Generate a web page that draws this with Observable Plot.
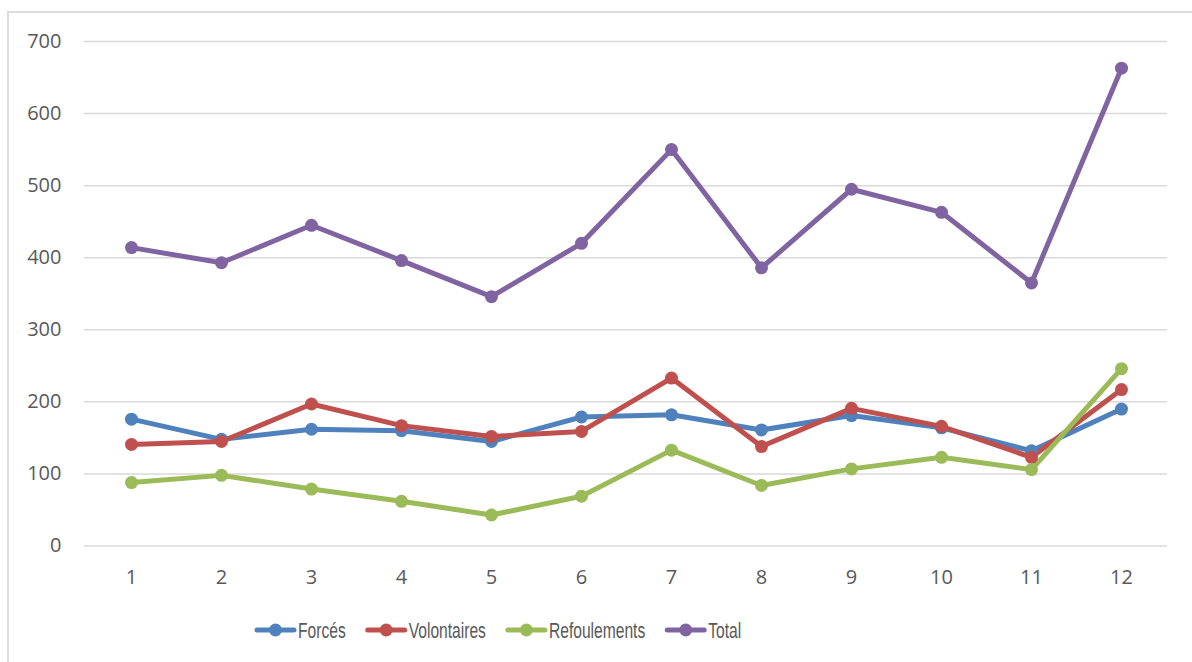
<!DOCTYPE html>
<html>
<head>
<meta charset="utf-8">
<script src="https://cdn.jsdelivr.net/npm/d3@7"></script>
<script src="https://cdn.jsdelivr.net/npm/@observablehq/plot@0.6"></script>
<style>
  html, body { margin: 0; padding: 0; background: #fff; width: 1192px; height: 662px; overflow: hidden; }
  #wrap { position: relative; width: 1192px; height: 662px; }
  #border { position: absolute; left: 7px; top: 11px; width: 1200px; height: 700px;
            border-left: 2px solid #dcdcdc; border-top: 2px solid #dcdcdc; }
  #chart { position: absolute; left: 0; top: 0; }
  #legend { position: absolute; left: 0; top: 608px; }
</style>
</head>
<body>
<div id="wrap">
  <div id="border"></div>
  <div id="chart"></div>
  <svg id="legend" width="1192" height="44"></svg>
</div>
<script>
const months = [1, 2, 3, 4, 5, 6, 7, 8, 9, 10, 11, 12];
const seriesNames = ["Forcés", "Volontaires", "Refoulements", "Total"];
const seriesColors = ["#4F81BD", "#C0504D", "#9BBB59", "#8064A2"];
const forces = [176, 148, 162, 160, 145, 179, 182, 161, 181, 164, 132, 190];
const volontaires = [141, 145, 197, 167, 152, 159, 233, 138, 191, 166, 123, 217];
const refoulements = [88, 98, 79, 62, 43, 69, 133, 84, 107, 123, 106, 246];
const total = [414, 393, 445, 396, 346, 420, 550, 386, 495, 463, 365, 663];
const yTicks = [0, 100, 200, 300, 400, 500, 600, 700];

const seriesValues = [forces, volontaires, refoulements, total];
const data = [];
seriesNames.forEach((name, i) => {
  months.forEach((m, j) => data.push({ serie: name, mois: m, valeur: seriesValues[i][j] }));
});

const chart = Plot.plot({
  width: 1192,
  height: 600,
  marginLeft: 84,
  marginRight: 25,
  marginTop: 41,
  marginBottom: 54.5,
  style: { fontFamily: "'Open Sans', sans-serif", fontSize: "20px", color: "#595959", background: "transparent" },
  x: { type: "point", domain: months, padding: 0.5, label: null },
  y: { domain: [0, 700], label: null },
  color: { domain: seriesNames, range: seriesColors },
  marks: [
    Plot.gridY(yTicks, { stroke: "#d9d9d9", strokeOpacity: 1, strokeWidth: 1.5 }),
    Plot.axisY(yTicks, { tickSize: 0, tickPadding: 23, label: null, fill: "#595959" }),
    Plot.axisX(months, { tickSize: 0, tickPadding: 24, label: null, fill: "#595959" }),
    Plot.line(data, { x: "mois", y: "valeur", z: "serie", stroke: "serie", strokeWidth: 5, strokeLinejoin: "round", strokeLinecap: "round" }),
    Plot.dot(data, { x: "mois", y: "valeur", fill: "serie", r: 6.5, stroke: "none" })
  ]
});
document.getElementById("chart").appendChild(chart);

// Legend: symbol + horizontally condensed text, laid out sequentially
const legend = d3.select("#legend");
const squeeze = 0.71;
let lx = 256;
seriesNames.forEach((name, i) => {
  const g = legend.append("g").attr("transform", `translate(${lx},22)`);
  g.append("line").attr("x1", 1).attr("x2", 38).attr("y1", 0).attr("y2", 0)
    .attr("stroke", seriesColors[i]).attr("stroke-width", 5).attr("stroke-linecap", "round");
  g.append("circle").attr("cx", 19.5).attr("cy", 0).attr("r", 6.5).attr("fill", seriesColors[i]);
  const t = g.append("text")
    .attr("transform", `translate(42,0) scale(${squeeze},1)`)
    .attr("dy", "0.36em")
    .attr("font-family", "'Liberation Sans', Arial, sans-serif")
    .attr("font-size", 22)
    .attr("fill", "#595959")
    .text(name);
  const w = t.node().getComputedTextLength() * squeeze;
  lx += 42 + w + 21;
});
</script>
</body>
</html>
